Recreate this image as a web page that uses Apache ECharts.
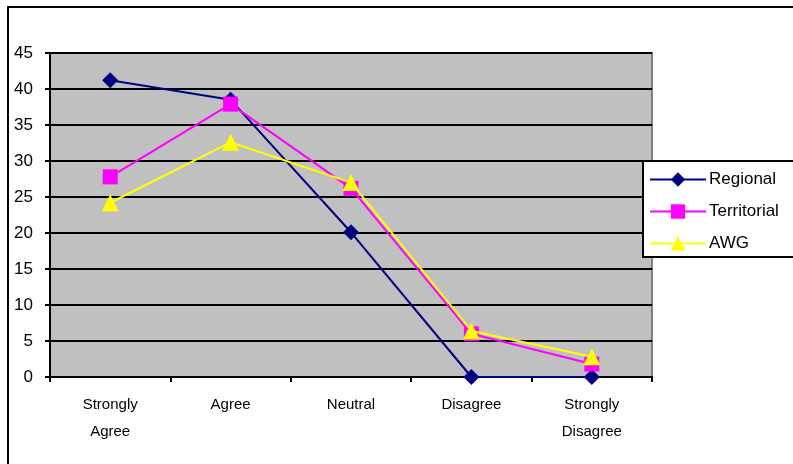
<!DOCTYPE html>
<html>
<head>
<meta charset="utf-8">
<script src="https://cdn.jsdelivr.net/npm/echarts@6/dist/echarts.min.js"></script>
<style>
html,body{margin:0;padding:0;background:#fff;}
#c{width:793px;height:464px;}
</style>
</head>
<body>
<div id="c"></div>
<script>
var categories = ['Strongly\nAgree', 'Agree', 'Neutral', 'Disagree', 'Strongly\nDisagree'];
var regional = [41.2, 38.5, 20.1, 0, 0];
var territorial = [27.8, 37.9, 26.2, 6.0, 1.8];
var awg = [24.2, 32.6, 27.0, 6.4, 2.8];
var yTicks = [0, 5, 10, 15, 20, 25, 30, 35, 40, 45];

var chart = echarts.init(document.getElementById('c'), null, {renderer: 'canvas'});
var font = 'Liberation Sans, Arial, sans-serif';
chart.setOption({
  animation: false,
  backgroundColor: '#fff',
  textStyle: {fontFamily: font},
  graphic: [{
    type: 'rect', z: 100,
    shape: {x: 8, y: 7, width: 900, height: 600},
    style: {fill: 'none', stroke: '#000', lineWidth: 2}
  }],
  grid: {
    left: 50, right: 141, top: 53, bottom: 87,
    show: true, backgroundColor: '#C0C0C0', borderColor: '#808080', borderWidth: 2
  },
  legend: {
    orient: 'vertical',
    left: 643, top: 161,
    backgroundColor: '#fff',
    borderColor: '#000', borderWidth: 2, borderRadius: 0,
    padding: [10, 20, 5, 6],
    itemGap: 15,
    itemWidth: 56, itemHeight: 18,
    textStyle: {fontFamily: font, fontSize: 17, color: '#000', padding: [0, 0, 0, -2]},
    data: ['Regional', 'Territorial', 'AWG']
  },
  xAxis: {
    type: 'category',
    data: categories,
    boundaryGap: true,
    axisLine: {lineStyle: {color: '#000', width: 2}},
    axisTick: {show: true, length: 5, lineStyle: {color: '#000', width: 2}},
    axisLabel: {interval: 0, color: '#000', fontSize: 15, lineHeight: 27, margin: 14, fontFamily: font},
    splitLine: {show: false}
  },
  yAxis: {
    type: 'value',
    min: 0, max: 45, interval: 5,
    axisLine: {show: true, lineStyle: {color: '#000', width: 2}},
    axisTick: {show: true, length: 5, lineStyle: {color: '#000', width: 2}},
    axisLabel: {color: '#000', fontSize: 17, margin: 17, fontFamily: font,
      formatter: function(v){ return yTicks.indexOf(v) >= 0 ? String(v) : ''; }},
    splitLine: {show: true, lineStyle: {color: '#000', width: 2}}
  },
  series: [
    {name: 'Regional', type: 'line', data: regional, symbol: 'diamond', symbolSize: 16,
      lineStyle: {color: '#000080', width: 2}, itemStyle: {color: '#000080'}, z: 3},
    {name: 'Territorial', type: 'line', data: territorial, symbol: 'rect', symbolSize: 15,
      lineStyle: {color: '#FF00FF', width: 2}, itemStyle: {color: '#FF00FF'}, z: 4},
    {name: 'AWG', type: 'line', data: awg, symbol: 'triangle', symbolSize: 17,
      lineStyle: {color: '#FFFF00', width: 2}, itemStyle: {color: '#FFFF00'}, z: 5}
  ]
});
</script>
</body>
</html>
